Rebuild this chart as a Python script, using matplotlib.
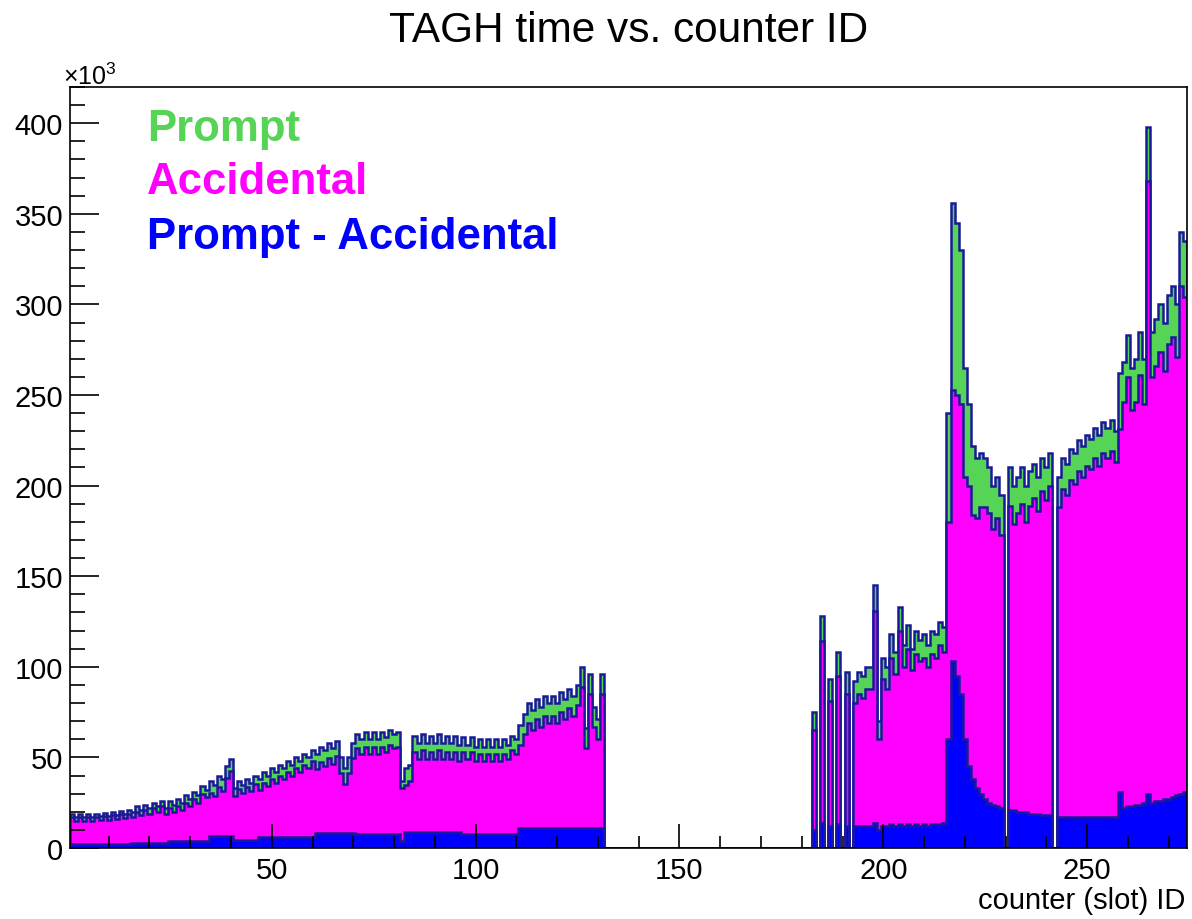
import numpy as np
import matplotlib
matplotlib.use("Agg")
import matplotlib.pyplot as plt
from matplotlib.ticker import MultipleLocator

plt.rcParams["font.family"] = ["Liberation Sans", "DejaVu Sans"]
plt.rcParams["mathtext.fontset"] = "custom"
plt.rcParams["mathtext.rm"] = "Liberation Sans"

# Counts per TAGH counter, in units of 10^3.
# Lower block: counters 1-131; upper block: counters 183-274.
prompt_low = [
    19, 17, 19, 17, 19, 17, 19, 17.5, 19.5, 17.5,
    20, 18, 20.5, 18.5, 21, 20, 23, 21, 24, 22,
    25, 23, 26, 22, 26, 24, 27, 25, 29, 27,
    31, 29, 34, 32, 37, 35, 40, 38, 45, 49,
    33, 37, 35, 38, 36, 40, 38, 42, 40, 44,
    42, 46, 44, 48, 46, 50, 48, 52, 50, 54,
    52, 56, 54, 58, 55, 59, 50, 44, 50, 58,
    63, 60, 64, 60, 64, 60, 64, 61, 65, 63, 64,
    37,
    44, 46, 62, 58, 63, 58, 62, 58,
    63, 58, 62, 58, 62, 57, 61, 57, 61, 56, 60, 56, 60, 56, 60, 56, 60, 57, 62, 60,
    68, 74, 80, 76, 82, 78, 84, 80, 84, 80,
    86, 82, 88, 84, 90, 100, 66, 96, 78, 71, 96,
]
subtracted_low = (
    [2] * 15 + [3] * 9 + [4] * 10 + [6.5] * 6 + [4.5] * 6 + [6] * 14
    + [8.5] * 10 + [8] * 11 + [4] + [9] * 14 + [8] * 14 + [11] * 21
)

prompt_high = [
    75, 0, 128, 0, 93, 0, 108, 0, 97, 0,
    92, 97, 95, 100, 100, 145, 70, 105, 100, 118,
    108, 133, 112, 123, 110, 120, 115, 118, 112, 120,
    118, 125, 122, 240,
    356, 345, 330, 265, 245, 222, 215, 218, 215, 210,
    200, 205, 195, 0, 210, 200, 205, 210, 200, 208,
    212, 205, 215, 210, 218, 0,
    205, 215, 212, 220, 218, 225, 222, 228, 226, 232, 228, 235, 232, 236,
    230,
    262, 268, 283, 265, 270, 285, 270,
    398,
    285, 292, 300, 290, 305, 310, 300, 340, 335,
]
subtracted_high = [
    10, 0, 14, 0, 12, 0, 13, 0, 12, 0,
    12, 12, 12, 12, 12, 14, 10, 12, 12, 13,
    12, 13, 12, 13, 12, 13, 12, 13, 12, 13,
    13, 13, 14, 60,
    103, 95, 85, 60, 45, 38, 33, 30, 27, 25,
    24, 23, 22, 0, 21, 21, 20, 20, 20, 19,
    19, 19, 18, 18, 18, 0,
    17, 17, 17, 17, 17, 17, 17, 17, 17, 17, 17, 17, 17, 17,
    17,
    31, 22, 23, 23, 24, 24, 25,
    30,
    25, 26, 26, 27, 27, 28, 29, 30, 31,
]

low_ids = np.arange(1, 132)
high_ids = np.arange(183, 275)
n_counters = 274

edges = np.arange(n_counters + 1) + 0.5
prompt = np.zeros(n_counters)
subtracted = np.zeros(n_counters)
prompt[low_ids - 1] = prompt_low
prompt[high_ids - 1] = prompt_high
subtracted[low_ids - 1] = subtracted_low
subtracted[high_ids - 1] = subtracted_high
accidental = prompt - subtracted

green = "#55d455"
magenta = "#ff00ff"
blue = "#0000ff"
edge = "#1a1a99"

fig = plt.figure(figsize=(11.92, 9.2), dpi=100)
ax = fig.add_axes([70 / 1192, 1 - 849 / 920, 1117 / 1192, 761 / 920])

for vals, fc in ((prompt, green), (accidental, magenta), (subtracted, blue)):
    ax.stairs(vals, edges, fill=True, facecolor=fc, edgecolor="none")
    ax.stairs(vals, edges, color=edge, lw=1.8)

ax.set_xlim(0.5, 274.5)
ax.set_ylim(0, 420)
ax.xaxis.set_minor_locator(MultipleLocator(10))
ax.yaxis.set_minor_locator(MultipleLocator(10))
ax.tick_params(axis="both", which="both", direction="in", top=False, right=False,
               width=1.2, labelsize=21)
ax.tick_params(axis="x", which="major", length=17, pad=6)
ax.tick_params(axis="x", which="minor", length=8.5)
ax.tick_params(axis="y", which="major", length=21, pad=5)
ax.tick_params(axis="y", which="minor", length=10.5)
xt = [50, 100, 150, 200, 250]
ax.set_xticks(xt)
ax.set_xticklabels([str(v) for v in xt])
yt = list(range(0, 401, 50))
ax.set_yticks(yt)
ax.set_yticklabels([str(v) for v in yt])
for s in ax.spines.values():
    s.set_linewidth(1.2)

fig.text(0.527, 1 - 31 / 920, "TAGH time vs. counter ID", ha="center", va="center",
         fontsize=30.5)
fig.text(63 / 1192, 1 - 77 / 920, r"$\mathregular{\times10^{3}}$", ha="left",
         va="center", fontsize=18)
fig.text(1185 / 1192, 1 - 901 / 920, "counter (slot) ID", ha="right", va="center",
         fontsize=21)

legend_items = [("Prompt", green, 130), ("Accidental", magenta, 183),
                ("Prompt - Accidental", blue, 237)]
for label, col, ypix in legend_items:
    fig.text(147 / 1192, 1 - ypix / 920, label, color=col, fontsize=31.5,
             fontweight="bold", ha="left", va="center")

fig.savefig("out.png", dpi=100)
